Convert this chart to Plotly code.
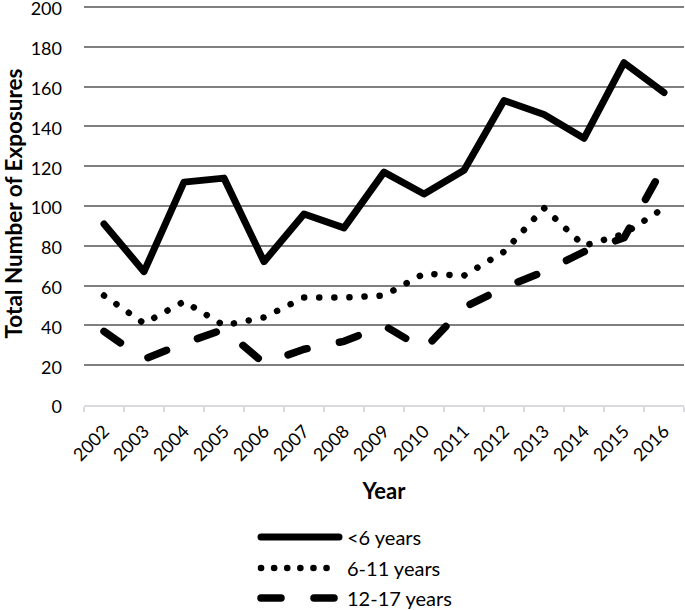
import plotly.graph_objects as go

years = ["2002", "2003", "2004", "2005", "2006", "2007", "2008", "2009",
         "2010", "2011", "2012", "2013", "2014", "2015", "2016"]
under6 = [91, 67, 112, 114, 72, 96, 89, 117, 106, 118, 153, 146, 134, 172, 157]
age6_11 = [55, 41, 52, 40, 44, 54, 54, 55, 66, 65, 77, 99, 80, 86, 99]
age12_17 = [37, 23, 31, 38, 21, 28, 32, 40, 28, 49, 59, 67, 77, 84, 120]
series_names = ["<6 years", "6-11 years", "12-17 years"]
y_ticks = list(range(0, 201, 20))

FONT = "Lato"
styles = [
    dict(width=7, dash="solid"),
    dict(width=6.5, dash="0.1px,15px"),
    dict(width=7.5, dash="20px,33px"),
]

fig = go.Figure()
for name, vals, st in zip(series_names, [under6, age6_11, age12_17], styles):
    fig.add_trace(go.Scatter(
        x=years, y=vals, mode="lines", name=name, showlegend=False,
        line=dict(color="black", width=st["width"], dash=st["dash"]),
    ))

# Legend drawn manually (Excel-style long samples)
L, T, W, H = 84, 2, 600, 403
def px2x(p):
    return (p - L) / W
def py2y(p):
    return (T + H - p) / H

legend_rows = [537, 568, 598]
legend_dash = ["solid", "0.1px,13px", "20px,33px"]
legend_w = [7, 6.5, 7.5]
for row, name, dsh, w in zip(legend_rows, series_names, legend_dash, legend_w):
    fig.add_shape(type="line", xref="paper", yref="paper",
                  x0=px2x(261), x1=px2x(339), y0=py2y(row), y1=py2y(row),
                  line=dict(color="black", width=w, dash=dsh))
    fig.add_annotation(xref="paper", yref="paper", x=px2x(345), y=py2y(row),
                       text=name, showarrow=False, xanchor="left", yanchor="middle",
                       font=dict(family=FONT, size=20, color="black"))

fig.update_layout(
    width=685, height=610,
    margin=dict(l=L, r=685 - L - W, t=T, b=610 - T - H),
    paper_bgcolor="white", plot_bgcolor="white",
    font=dict(family=FONT, color="black", size=18),
    showlegend=False,
)
fig.update_xaxes(
    type="category", range=[-0.5, 14.5], tickangle=-45,
    tickson="boundaries", ticks="outside", ticklen=5, tickcolor="#d9d9e0", tickwidth=1.5,
    showline=True, linecolor="#d9d9e0", linewidth=1.5, showgrid=False,
    ticklabelstandoff=7,
    tickfont=dict(family=FONT, size=18, color="black"),
    title=dict(text="<b>Year</b>", font=dict(family=FONT, size=22, color="black"), standoff=20),
    automargin=False,
)
fig.update_yaxes(
    range=[0, 202.5], tickvals=y_ticks, showgrid=True, gridcolor="#7f7f7f", gridwidth=1.8,
    zeroline=True, zerolinecolor="#d9d9e0", zerolinewidth=1.5, showline=False,
    ticks="", ticklabelstandoff=21, ticklabeloverflow="allow", ticklabelshift=2,
    tickfont=dict(family=FONT, size=18, color="black"),
    title=dict(text="<b>Total Number of Exposures</b>", font=dict(family=FONT, size=22.5, color="black"), standoff=7),
    automargin=False,
)

post = """
document.body.style.margin = '0';
document.body.style.overflow = 'hidden';
var gd = document.getElementById('{plot_id}');
function fixCaps(){
  gd.querySelectorAll('.scatterlayer path.js-line, .shapelayer path').forEach(function(p){
    p.style.strokeLinecap = 'round';
    p.style.strokeLinejoin = 'round';
  });
}
fixCaps();
gd.on('plotly_afterplot', fixCaps);
"""
fig.write_html("out.html", post_script=post, config={"displayModeBar": False})
